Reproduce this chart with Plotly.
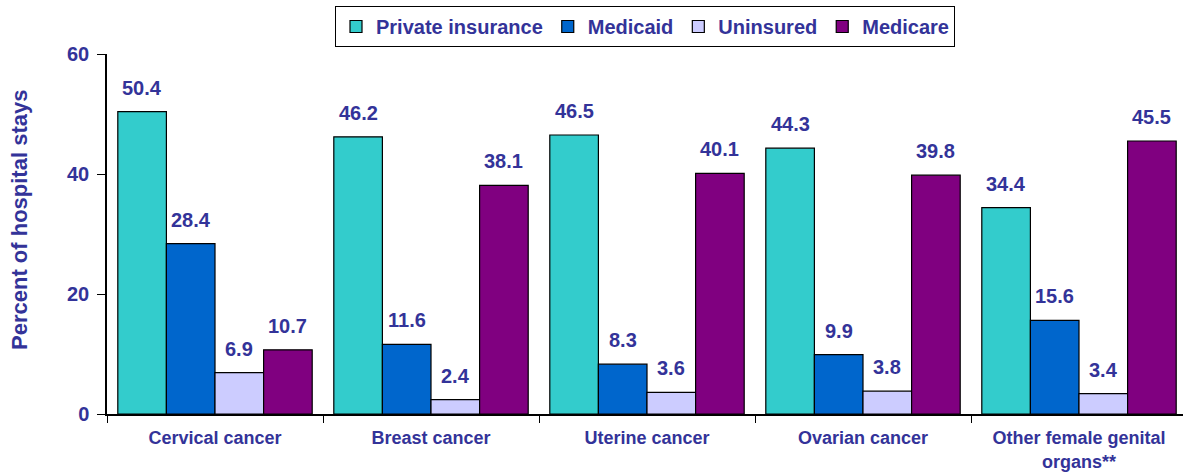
import plotly.graph_objects as go

categories = ["Cervical cancer", "Breast cancer", "Uterine cancer", "Ovarian cancer",
              "Other female genital<br>organs**"]
series_names = ["Private insurance", "Medicaid", "Uninsured", "Medicare"]
private_ins = [50.4, 46.2, 46.5, 44.3, 34.4]
medicaid = [28.4, 11.6, 8.3, 9.9, 15.6]
uninsured = [6.9, 2.4, 3.6, 3.8, 3.4]
medicare = [10.7, 38.1, 40.1, 39.8, 45.5]
y_ticks = [0, 20, 40, 60]

series_values = [private_ins, medicaid, uninsured, medicare]
colors = ["#33CCCC", "#0066CC", "#CCCCFF", "#800080"]
txt_color = "#333399"
FONT = "Liberation Sans, Arial, sans-serif"

W, H = 1183, 472
ml, mr, mt, mb = 107, 0, 54, 58
plot_w = W - ml - mr
plot_h = H - mt - mb
cat_px = 216.0
bargap = 0.1

fig = go.Figure()
for name, vals, col in zip(series_names, series_values, colors):
    fig.add_trace(go.Bar(
        x=categories, y=vals, name=f"<b>{name}</b>",
        marker=dict(color=col, line=dict(color="black", width=1.2)),
    ))

# value labels above bars
n = len(series_names)
bw = (1 - bargap) / n
annotations = []
for j, vals in enumerate(series_values):
    off = -(1 - bargap) / 2 + bw * (j + 0.5)
    for i, v in enumerate(vals):
        annotations.append(dict(
            x=i + off, y=v, xref="x", yref="y", text=f"<b>{v:.1f}</b>",
            showarrow=False, yanchor="bottom", yshift=11,
            font=dict(family=FONT, size=20, color=txt_color),
        ))

annotations.append(dict(
    x=(19 - ml) / plot_w, y=(H - mb - 220) / plot_h, xref="paper", yref="paper",
    xanchor="center", yanchor="middle",
    text="<b>Percent of hospital stays</b>", textangle=-90, showarrow=False,
    font=dict(family=FONT, size=22, color=txt_color),
))

x_end = -0.5 + plot_w / cat_px

fig.update_layout(
    width=W, height=H,
    margin=dict(l=ml, r=mr, t=mt, b=mb, pad=0, autoexpand=False),
    paper_bgcolor="white", plot_bgcolor="white",
    barmode="group", bargap=bargap, bargroupgap=0,
    font=dict(family=FONT, size=18, color=txt_color),
    showlegend=True,
    legend=dict(
        orientation="h", xref="container", yref="container",
        x=645 / W, xanchor="center", y=1 - 6 / H, yanchor="top",
        bordercolor="black", borderwidth=1, bgcolor="white",
        font=dict(family=FONT, size=20, color=txt_color),
        traceorder="normal",
    ),
    xaxis=dict(
        type="category", range=[-0.5, x_end], tickson="boundaries",
        showline=True, linecolor="black", linewidth=1.5,
        ticks="outside", ticklen=7, tickcolor="black", tickwidth=1,
        showgrid=False, zeroline=False, automargin=False,
        ticklabelstandoff=7,
        tickvals=categories, ticktext=[f"<b>{c}</b>" for c in categories],
        tickfont=dict(family=FONT, size=18, color=txt_color),
    ),
    yaxis=dict(
        range=[0, 60], tickvals=y_ticks, ticktext=[f"<b>{t}</b>" for t in y_ticks],
        showline=True, linecolor="black", linewidth=1.5,
        ticks="outside", ticklen=8, tickcolor="black", tickwidth=1,
        showgrid=False, zeroline=False, automargin=False,
        ticklabelstandoff=4,
        tickfont=dict(family=FONT, size=20, color=txt_color),
    ),
    annotations=annotations,
)

fig.write_html("out.html", config={"displayModeBar": False},
               post_script="document.body.style.margin='0';document.body.style.overflow='hidden';")
